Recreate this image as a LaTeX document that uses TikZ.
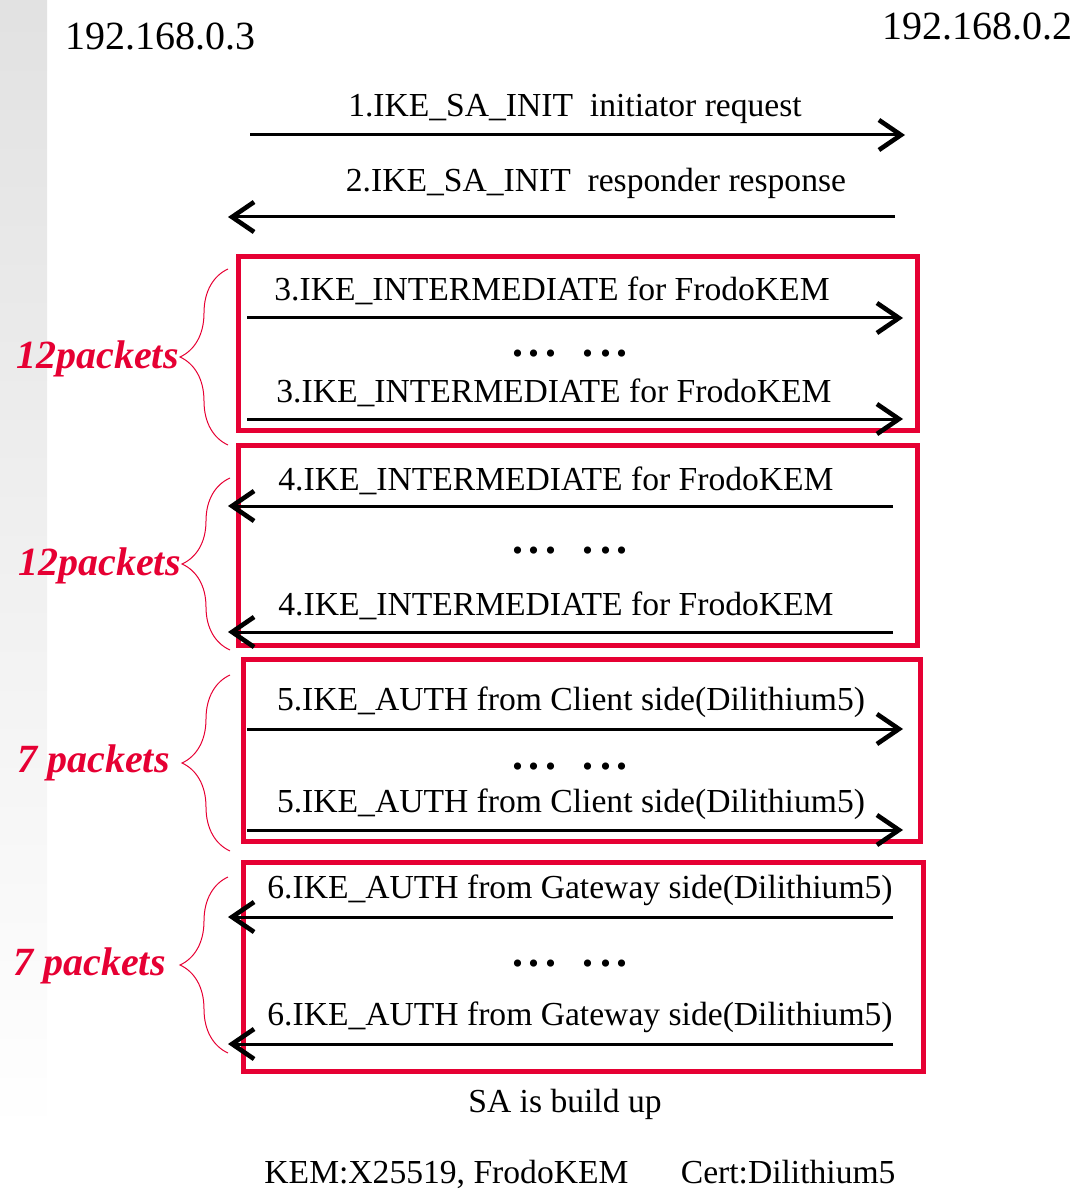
\documentclass[tikz,border=0pt]{standalone}
\usepackage{fontspec}
\setmainfont{Liberation Serif}
\usetikzlibrary{arrows.meta,positioning,decorations.pathreplacing}
\definecolor{ikered}{RGB}{230,0,51}

\begin{document}
\begin{tikzpicture}[x=0.5pt,y=-0.5pt,
    addr/.style={anchor=base west, inner sep=0pt, font=\fontsize{20}{24}\selectfont},
    lbl/.style={anchor=base, inner sep=0pt, font=\fontsize{16.8}{19}\selectfont},
    dotrow/.style={anchor=base, inner sep=0pt, font=\fontsize{22}{24}\selectfont\bfseries},
    msg/.style={line width=1.5pt, -{Straight Barb[length=11pt,width=15pt,line width=2.3pt]}},
    grp/.style={draw=ikered, line width=2.5pt},
    brc/.style={draw=ikered, line width=0.5pt, decorate, decoration={brace, amplitude=24pt}},
    pk/.style={anchor=base east, inner sep=0pt, text=ikered, font=\fontsize{20}{24}\selectfont\bfseries\itshape}
  ]
        \useasboundingbox (0,0) rectangle (1079,1192);

        % Banda grigia a sinistra
        \shade[top color=gray!23, bottom color=white] (0,0) rectangle (47,1135);

        % Indirizzi
        \node[addr] (client) at (65,50) {192.168.0.3};
        \node[addr] (gateway) at (882,40) {192.168.0.2};

        % 1. IKE_SA_INIT
        \coordinate (m1a) at (250,135);
        \coordinate (m1b) at (905,135);
        \node[lbl] (l1) at (575,117) {1.IKE\_SA\_INIT\ \ initiator request};
        \draw[msg] (m1a) -- (m1b);

        % 2. IKE_SA_INIT
        \coordinate (m2a) at (895,217);
        \coordinate (m2b) at (228,217);
        \node[lbl] (l2) at (596,192) {2.IKE\_SA\_INIT\ \ responder response};
        \draw[msg] (m2a) -- (m2b);

        % Gruppo 3 (FrodoKEM, client)
        \draw[grp] (238,257) rectangle (917,430);
        \coordinate (m3a) at (247,318);
        \coordinate (m3b) at (903,318);
        \node[lbl] (l3a) at (552,300) {3.IKE\_INTERMEDIATE for FrodoKEM};
        \draw[msg] (m3a) -- (m3b);
        \node[dotrow] (d3) at (570,356) {.\hspace{3pt}.\hspace{3pt}.\hspace{13pt}.\hspace{3pt}.\hspace{3pt}.};
        \coordinate (m3c) at (247,419);
        \coordinate (m3d) at (903,419);
        \node[lbl] (l3b) at (554,402) {3.IKE\_INTERMEDIATE for FrodoKEM};
        \draw[msg] (m3c) -- (m3d);

        % Gruppo 4 (FrodoKEM, gateway)
        \draw[grp] (238,445) rectangle (917,645);
        \coordinate (m4a) at (893,506);
        \coordinate (m4b) at (228,506);
        \node[lbl] (l4a) at (556,490) {4.IKE\_INTERMEDIATE for FrodoKEM};
        \draw[msg] (m4a) -- (m4b);
        \node[dotrow] (d4) at (570,553) {.\hspace{3pt}.\hspace{3pt}.\hspace{13pt}.\hspace{3pt}.\hspace{3pt}.};
        \coordinate (m4c) at (893,632);
        \coordinate (m4d) at (228,632);
        \node[lbl] (l4b) at (556,615) {4.IKE\_INTERMEDIATE for FrodoKEM};
        \draw[msg] (m4c) -- (m4d);

        % Gruppo 5 (IKE_AUTH, client)
        \draw[grp] (243,659) rectangle (920,841);
        \coordinate (m5a) at (247,729);
        \coordinate (m5b) at (903,729);
        \node[lbl] (l5a) at (571,710) {5.IKE\_AUTH from Client side(Dilithium5)};
        \draw[msg] (m5a) -- (m5b);
        \node[dotrow] (d5) at (570,769) {.\hspace{3pt}.\hspace{3pt}.\hspace{13pt}.\hspace{3pt}.\hspace{3pt}.};
        \coordinate (m5c) at (247,830);
        \coordinate (m5d) at (903,830);
        \node[lbl] (l5b) at (571,812) {5.IKE\_AUTH from Client side(Dilithium5)};
        \draw[msg] (m5c) -- (m5d);

        % Gruppo 6 (IKE_AUTH, gateway)
        \draw[grp] (243,862) rectangle (923,1071);
        \coordinate (m6a) at (893,917);
        \coordinate (m6b) at (228,917);
        \node[lbl] (l6a) at (580,898) {6.IKE\_AUTH from Gateway side(Dilithium5)};
        \draw[msg] (m6a) -- (m6b);
        \node[dotrow] (d6) at (570,966) {.\hspace{3pt}.\hspace{3pt}.\hspace{13pt}.\hspace{3pt}.\hspace{3pt}.};
        \coordinate (m6c) at (893,1044);
        \coordinate (m6d) at (228,1044);
        \node[lbl] (l6b) at (580,1025) {6.IKE\_AUTH from Gateway side(Dilithium5)};
        \draw[msg] (m6c) -- (m6d);

        % Graffe e numero di pacchetti
        \draw[brc] (228,445) -- (228,269);
        \node[pk] (pk3) at (179,368) {12packets};
        \draw[brc] (230,650) -- (230,478);
        \node[pk] (pk4) at (181,575) {12packets};
        \draw[brc] (230,851) -- (230,675);
        \node[pk] (pk5) at (170,772) {7 packets};
        \draw[brc] (228,1053) -- (228,877);
        \node[pk] (pk6) at (166,975) {7 packets};

        % Note in basso
        \node[lbl] (sa) at (565,1112) {SA is build up};
        \node[lbl] (algs) at (580,1183) {KEM:X25519, FrodoKEM\hspace{22pt} Cert:Dilithium5};
\end{tikzpicture}
\end{document}
